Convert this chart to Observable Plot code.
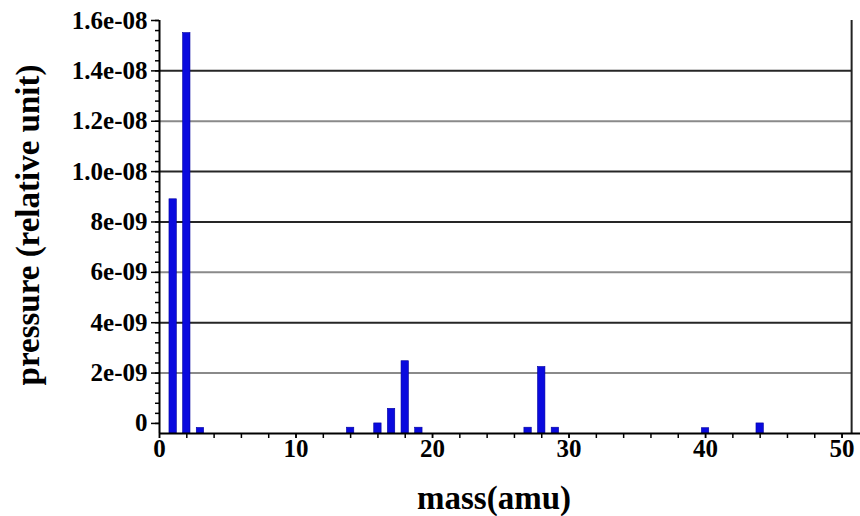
<!DOCTYPE html>
<html><head><meta charset="utf-8">
<script src="https://cdn.jsdelivr.net/npm/d3@7"></script>
<script src="https://cdn.jsdelivr.net/npm/@observablehq/plot@0.6"></script>
<style>body{margin:0;background:#fff}</style>
</head><body><div id="chart"></div>
<script>
// data
const masses = [1, 2, 3, 14, 16, 17, 18, 19, 27, 28, 29, 40, 44];
const pressures = [8.9e-9, 15.5e-9, -0.18e-9, -0.17e-9, 0, 0.58e-9, 2.47e-9, -0.17e-9, -0.17e-9, 2.24e-9, -0.17e-9, -0.19e-9, 0];
const yTickValues = [0, 2e-9, 4e-9, 6e-9, 8e-9, 1e-8, 1.2e-8, 1.4e-8, 1.6e-8];
const yTickLabels = ["0", "2e-09", "4e-09", "6e-09", "8e-09", "1.0e-08", "1.2e-08", "1.4e-08", "1.6e-08"];
const gridDark = [4e-9, 8e-9, 1e-8, 1.4e-8];
const gridLight = [2e-9, 6e-9, 1.2e-8];
const xTickValues = [0, 10, 20, 30, 40, 50];
const xTickLabels = ["0", "10", "20", "30", "40", "50"];
const xTitle = "mass(amu)";
const yTitle = "pressure (relative unit)";

const yMin = -0.4e-9, yMax = 1.6e-8, xMax = 51.35, frameRight = 50.7, halfWidth = 0.27;
const xMinorTicks = d3.range(0, 51, 2);
const yMinorTicks = d3.range(0, 41).map(i => i * 0.4e-9);

const data = masses.map((m, i) => ({mass: m, pressure: pressures[i]}));
const font = "'Liberation Serif', 'Times New Roman', serif";

const chart = Plot.plot({
  width: 860, height: 516,
  marginLeft: 159, marginRight: 0, marginTop: 20, marginBottom: 83,
  x: {domain: [0, xMax], label: null},
  y: {domain: [yMin, yMax], label: null},
  style: {fontFamily: font, fontWeight: "bold", fontSize: "25px", color: "#000", background: "#fff"},
  marks: [
    Plot.ruleY(gridLight, {x1: 0, x2: frameRight, stroke: "#8a8a8a", strokeWidth: 2}),
    Plot.ruleY(gridDark, {x1: 0, x2: frameRight, stroke: "#262626", strokeWidth: 2}),
    Plot.rect(data, {x1: d => d.mass - halfWidth, x2: d => d.mass + halfWidth, y1: yMin, y2: "pressure", fill: "#0a0ade", stroke: "#0000a0", strokeWidth: 0.6}),
    Plot.ruleX([frameRight], {stroke: "#222", strokeWidth: 2}),
    Plot.axisY(yMinorTicks, {tickSize: 4, tickFormat: () => "", label: null, strokeWidth: 1.5}),
    Plot.axisY(yTickValues, {tickSize: 8, tickPadding: 4, tickFormat: d => yTickLabels[yTickValues.indexOf(d)], label: null, strokeWidth: 1.5, fontSize: 25, fontWeight: "bold"}),
    Plot.axisX(xMinorTicks, {tickSize: 5, tickFormat: () => "", label: null, strokeWidth: 1.5}),
    Plot.axisX(xTickValues, {tickSize: 5, tickPadding: 1, tickFormat: d => xTickLabels[xTickValues.indexOf(d)], label: null, strokeWidth: 1.5, fontSize: 25, fontWeight: "bold"}),
    Plot.ruleY([yMin], {stroke: "#000", strokeWidth: 2}),
    Plot.ruleX([0], {stroke: "#000", strokeWidth: 2}),
    Plot.text([xTitle], {frameAnchor: "bottom", lineAnchor: "middle", textAnchor: "middle", dx: -16, dy: 65, fontSize: 33, fontWeight: "bold", fontFamily: font}),
    Plot.text([yTitle], {frameAnchor: "left", lineAnchor: "middle", textAnchor: "middle", rotate: -90, dx: -131, dy: -2, fontSize: 33, fontWeight: "bold", fontFamily: font})
  ]
});
document.getElementById("chart").appendChild(chart);
</script>
</body></html>
